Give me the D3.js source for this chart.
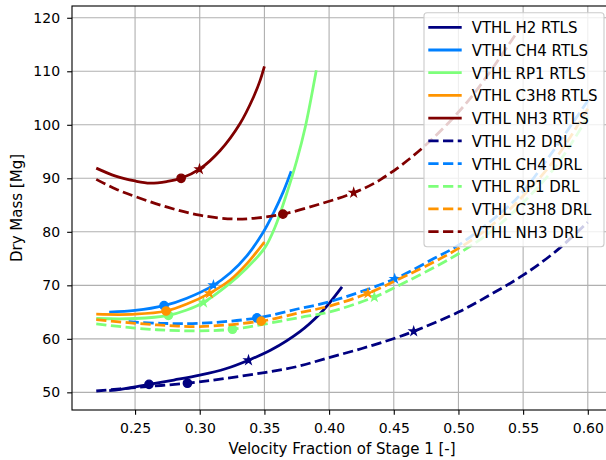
<!DOCTYPE html>
<html>
<head>
<meta charset="utf-8">
<script src="https://cdn.jsdelivr.net/npm/d3@7"></script>
<style>
  html, body { margin: 0; padding: 0; background: #fff; }
  svg { display: block; font-family: "DejaVu Sans", sans-serif; }
</style>
</head>
<body>
<svg id="chart" width="606" height="460"></svg>
<script>
// Dry mass [Mg] against stage-1 velocity fraction [-], one curve per propellant and recovery mode
const xTicks = [0.25, 0.30, 0.35, 0.40, 0.45, 0.50, 0.55, 0.60];
const yTicks = [50, 60, 70, 80, 90, 100, 110, 120];

const seriesNames = [
  "VTHL H2 RTLS", "VTHL CH4 RTLS", "VTHL RP1 RTLS", "VTHL C3H8 RTLS", "VTHL NH3 RTLS",
  "VTHL H2 DRL", "VTHL CH4 DRL", "VTHL RP1 DRL", "VTHL C3H8 DRL", "VTHL NH3 DRL"
];

const h2Rtls = [[0.23,50.3],[0.245,50.8],[0.2608,51.5],[0.28,52.3],[0.30,53.2],[0.32,54.4],[0.3377,56.0],[0.355,57.9],[0.3777,61.4],[0.393,64.7],[0.40,66.6],[0.41,69.7]];
const ch4Rtls = [[0.23,65.0],[0.25,65.3],[0.2724,66.2],[0.29,67.6],[0.3106,70.0],[0.3235,72.3],[0.3364,75.5],[0.3493,80.0],[0.357,83.5],[0.3648,87.6],[0.3707,91.3]];
const rp1Rtls = [[0.22,63.8],[0.25,63.8],[0.2758,64.4],[0.29,65.4],[0.3029,66.8],[0.3235,70.4],[0.335,72.9],[0.35,76.9],[0.3584,81.0],[0.3665,86.6],[0.3751,93.4],[0.3816,99.6],[0.3901,110.2]];
const c3h8Rtls = [[0.22,64.6],[0.25,64.6],[0.274,65.2],[0.29,66.5],[0.3075,68.5],[0.3235,71.0],[0.337,74.2],[0.35,78.1]];
const nh3Rtls = [[0.22,91.9],[0.235,90.4],[0.25,89.5],[0.2616,89.1],[0.2745,89.4],[0.2856,90.0],[0.2998,91.7],[0.3158,95.2],[0.3313,100.3],[0.3416,105.2],[0.3467,108.3],[0.35,110.9]];

const h2Drl = [[0.22,50.25],[0.25,50.9],[0.2905,51.7],[0.32,52.6],[0.35,53.7],[0.375,54.8],[0.40,56.5],[0.4254,58.2],[0.4507,60.1],[0.4654,61.4],[0.50,65.0],[0.525,68.3],[0.55,71.9],[0.575,76.3],[0.60,81.8]];
const ch4Drl = [[0.245,63.2],[0.27,62.9],[0.30,62.9],[0.3442,63.9],[0.3777,65.7],[0.40,66.9],[0.4507,71.2],[0.4809,75.0],[0.50,77.5],[0.5325,83.5],[0.548,87.0],[0.5738,95.3],[0.60,104.5]];
const rp1Drl = [[0.22,62.8],[0.25,62.0],[0.275,61.6],[0.30,61.5],[0.3253,61.8],[0.3777,64.0],[0.40,65.0],[0.435,67.8],[0.45,69.5],[0.50,75.9],[0.5325,81.5],[0.5738,91.8],[0.60,101.5]];
const c3h8Drl = [[0.22,63.6],[0.25,62.9],[0.275,62.5],[0.30,62.3],[0.3475,63.3],[0.3777,64.9],[0.40,66.1],[0.43,68.5],[0.45,70.7],[0.50,76.9],[0.5325,82.6],[0.5738,93.3],[0.60,103.0]];
const nh3Drl = [[0.22,89.8],[0.235,88.0],[0.25,86.6],[0.275,84.6],[0.30,83.1],[0.326,82.4],[0.345,82.6],[0.3643,83.3],[0.393,85.2],[0.419,87.3],[0.44,89.8],[0.4737,96.0],[0.5093,105.0],[0.548,118.3]];

// design points marked on each curve: circle and star
const circlePoints = [[0.2608,51.5],[0.2724,66.2],[0.2758,64.4],[0.274,65.2],[0.2856,90.0],
                      [0.2905,51.7],[0.3442,63.9],[0.3253,61.8],[0.3475,63.3],[0.3643,83.3]];
const starPoints   = [[0.3377,56.0],[0.3106,70.0],[0.3029,66.8],[0.3075,68.5],[0.2998,91.7],
                      [0.4654,61.4],[0.4507,71.2],[0.435,67.8],[0.43,68.5],[0.419,87.3]];

const seriesData = [h2Rtls, ch4Rtls, rp1Rtls, c3h8Rtls, nh3Rtls, h2Drl, ch4Drl, rp1Drl, c3h8Drl, nh3Drl];
const palette = ["#000080", "#0080ff", "#7dff7a", "#ff9400", "#800000"];

const svg = d3.select("#chart");
const plotLeft = 72, plotTop = 6, plotRight = 612.2, plotBottom = 410;

const x = d3.scaleLinear().domain([0.20125, 0.61886]).range([plotLeft, plotRight]);
const y = d3.scaleLinear().domain([46.7, 122.2]).range([plotBottom, plotTop]);

const pt = 100 / 72;
const lw = 2 * pt;
const dash = `${3.7 * lw},${1.6 * lw}`;

svg.append("defs").append("clipPath").attr("id", "plotClip")
  .append("rect").attr("x", plotLeft).attr("y", plotTop)
  .attr("width", plotRight - plotLeft).attr("height", plotBottom - plotTop);

// grid
const grid = svg.append("g").attr("stroke", "#b0b0b0").attr("stroke-width", 0.8 * pt);
grid.selectAll(".gx").data(xTicks).join("line").attr("class", "gx")
  .attr("x1", d => x(d)).attr("x2", d => x(d)).attr("y1", plotTop).attr("y2", plotBottom);
grid.selectAll(".gy").data(yTicks).join("line").attr("class", "gy")
  .attr("x1", plotLeft).attr("x2", plotRight).attr("y1", d => y(d)).attr("y2", d => y(d));

// curves and markers
const line = d3.line().x(d => x(d[0])).y(d => y(d[1])).curve(d3.curveCatmullRom.alpha(0.5));
const plot = svg.append("g").attr("clip-path", "url(#plotClip)");
const starSym = d3.symbol().type(d3.symbolStar).size(Math.pow(3 * pt, 2) / 0.8908130915292852);

seriesData.forEach((data, i) => {
  const color = palette[i % 5];
  const dashed = i >= 5;
  plot.append("path").datum(data)
    .attr("d", line)
    .attr("fill", "none")
    .attr("stroke", color)
    .attr("stroke-width", lw)
    .attr("stroke-dasharray", dashed ? dash : null);
  const c = circlePoints[i], s = starPoints[i];
  plot.append("circle")
    .attr("cx", x(c[0])).attr("cy", y(c[1])).attr("r", 3 * pt)
    .attr("fill", color).attr("stroke", color).attr("stroke-width", pt);
  plot.append("path")
    .attr("d", starSym())
    .attr("transform", `translate(${x(s[0])},${y(s[1])})`)
    .attr("fill", color).attr("stroke", color).attr("stroke-width", pt)
    .attr("stroke-linejoin", "miter");
});

// axes
const tickLen = 3.5 * pt;
const xAxis = svg.append("g").attr("transform", `translate(0,${plotBottom})`)
  .call(d3.axisBottom(x).tickValues(xTicks).tickFormat(d3.format(".2f"))
    .tickSize(tickLen).tickSizeOuter(0).tickPadding(7.9));
const yAxis = svg.append("g").attr("transform", `translate(${plotLeft},0)`)
  .call(d3.axisLeft(y).tickValues(yTicks).tickFormat(d3.format("d"))
    .tickSize(tickLen).tickSizeOuter(0).tickPadding(7.1));
[xAxis, yAxis].forEach(a => {
  a.select(".domain").remove();
  a.selectAll("line").attr("stroke", "#000").attr("stroke-width", 0.8 * pt);
  a.selectAll("text").attr("fill", "#000").style("font-size", "14px")
    .style("font-family", "DejaVu Sans, sans-serif");
});

// spines
svg.append("rect").attr("x", plotLeft).attr("y", plotTop)
  .attr("width", plotRight - plotLeft).attr("height", plotBottom - plotTop)
  .attr("fill", "none").attr("stroke", "#000").attr("stroke-width", 0.8 * pt);

// axis labels
svg.append("text").attr("x", (plotLeft + plotRight) / 2).attr("y", 454)
  .attr("text-anchor", "middle").style("font-size", "15px").attr("fill", "#000")
  .text("Velocity Fraction of Stage 1 [-]");
svg.append("text")
  .attr("transform", `translate(21.7,${(plotTop + plotBottom) / 2}) rotate(-90)`)
  .attr("text-anchor", "middle").style("font-size", "15px").attr("fill", "#000")
  .text("Dry Mass [Mg]");

// legend
const legend = svg.append("g");
legend.append("rect")
  .attr("x", 424).attr("y", 12.7).attr("width", 180).attr("height", 234)
  .attr("rx", 3).attr("ry", 3)
  .attr("fill", "#fff").attr("fill-opacity", 0.8)
  .attr("stroke", "#cccccc").attr("stroke-width", 0.8 * pt);
const rowStep = 22.71, rowStart = 27.3;
seriesNames.forEach((name, i) => {
  const yy = rowStart + i * rowStep;
  legend.append("line")
    .attr("x1", 428.3).attr("x2", 461.7).attr("y1", yy).attr("y2", yy)
    .attr("stroke", palette[i % 5]).attr("stroke-width", lw)
    .attr("stroke-dasharray", i >= 5 ? dash : null);
  legend.append("text")
    .attr("x", 471.7).attr("y", yy + 6)
    .style("font-size", "15px").attr("fill", "#000")
    .text(name);
});
</script>
</body>
</html>
